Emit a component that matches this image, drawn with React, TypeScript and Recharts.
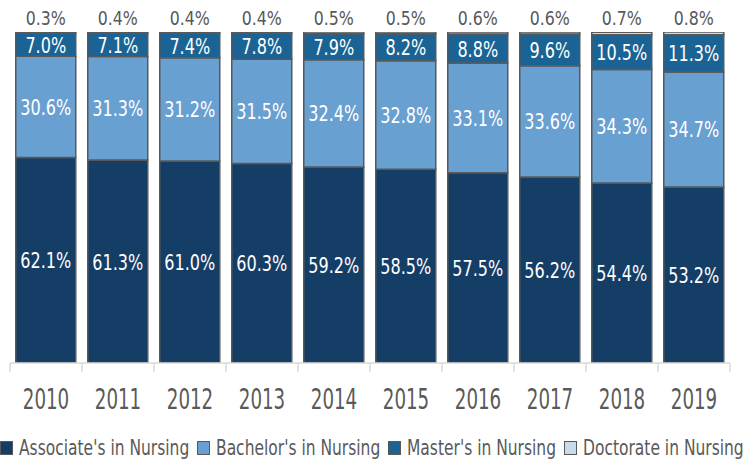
import { Bar, BarChart, LabelList, Legend, XAxis, YAxis } from 'recharts';

const years = ['2010', '2011', '2012', '2013', '2014', '2015', '2016', '2017', '2018', '2019'];
const associate = [62.1, 61.3, 61.0, 60.3, 59.2, 58.5, 57.5, 56.2, 54.4, 53.2];
const bachelor = [30.6, 31.3, 31.2, 31.5, 32.4, 32.8, 33.1, 33.6, 34.3, 34.7];
const master = [7.0, 7.1, 7.4, 7.8, 7.9, 8.2, 8.8, 9.6, 10.5, 11.3];
const doctorate = [0.3, 0.4, 0.4, 0.4, 0.5, 0.5, 0.6, 0.6, 0.7, 0.8];

const series = [
  { key: 'associate', name: "Associate's in Nursing", color: '#153e67' },
  { key: 'bachelor', name: "Bachelor's in Nursing", color: '#68a0d1' },
  { key: 'master', name: "Master's in Nursing", color: '#1a6394' },
  { key: 'doctorate', name: 'Doctorate in Nursing', color: '#c6dbee' },
];

const data = years.map((year, i) => ({
  year,
  associate: associate[i],
  bachelor: bachelor[i],
  master: master[i],
  doctorate: doctorate[i],
}));

const FONT = '"DejaVu Sans Condensed", "DejaVu Sans", sans-serif';
const GRAY = '#595959';
const WIDTH = 756;
const HEIGHT = 466;
const MARGIN = { top: 32, right: 26, left: 10, bottom: 0 };
const BAND = (WIDTH - MARGIN.left - MARGIN.right) / years.length;

const fmt = (v: number) => `${v.toFixed(1)}%`;

// measure text so the squeezed legend items keep their real widths
let measureCtx: CanvasRenderingContext2D | null = null;
function textWidth(text: string, size: number) {
  if (!measureCtx) measureCtx = document.createElement('canvas').getContext('2d');
  if (!measureCtx) return text.length * size * 0.55;
  measureCtx.font = `${size}px ${FONT}`;
  return measureCtx.measureText(text).width;
}

// narrow text, drawn in svg and squeezed horizontally
function NarrowText({ x, y, text, size, fill, squeeze }: any) {
  return (
    <text
      transform={`translate(${x},${y}) scale(${squeeze},1)`}
      textAnchor="middle"
      fill={fill}
      fontSize={size}
      fontFamily={FONT}
    >
      {text}
    </text>
  );
}

function InnerLabel(props: any) {
  const { x, y, width, height, value } = props;
  return (
    <NarrowText
      x={x + width / 2}
      y={y + height / 2 + 8}
      text={fmt(Number(value))}
      size={21.5}
      fill="#ffffff"
      squeeze={0.83}
    />
  );
}

function TopLabel(props: any) {
  const { x, y, width, value } = props;
  return <NarrowText x={x + width / 2} y={y - 7} text={fmt(Number(value))} size={19.5} fill={GRAY} squeeze={0.9} />;
}

function YearTick(props: any) {
  const { x, y, payload, index } = props;
  return (
    <g>
      <line x1={x - BAND / 2} x2={x - BAND / 2} y1={y} y2={y + 9} stroke="#d9d9d9" strokeWidth={1.5} />
      {index === years.length - 1 && (
        <line x1={x + BAND / 2} x2={x + BAND / 2} y1={y} y2={y + 9} stroke="#d9d9d9" strokeWidth={1.5} />
      )}
      <NarrowText x={x} y={y + 46} text={payload.value} size={29} fill={GRAY} squeeze={0.7} />
    </g>
  );
}

const LEGEND_SIZE = 20.5;
const LEGEND_SQUEEZE = 0.84;

function LegendRow() {
  return (
    <div
      style={{
        display: 'flex',
        justifyContent: 'center',
        gap: 8,
        paddingTop: 8,
        paddingLeft: 4,
        fontFamily: FONT,
        fontSize: LEGEND_SIZE,
        color: GRAY,
        whiteSpace: 'nowrap',
        lineHeight: '24px',
      }}
    >
      {series.map((s) => (
        <span key={s.key} style={{ display: 'flex', alignItems: 'center' }}>
          <span
            style={{
              display: 'inline-block',
              width: 11,
              height: 12,
              background: s.color,
              border: `1px solid ${GRAY}`,
              marginRight: 6,
            }}
          />
          <span style={{ display: 'inline-block', width: textWidth(s.name, LEGEND_SIZE) * LEGEND_SQUEEZE }}>
            <span
              style={{
                display: 'inline-block',
                transform: `scaleX(${LEGEND_SQUEEZE})`,
                transformOrigin: 'left center',
              }}
            >
              {s.name}
            </span>
          </span>
        </span>
      ))}
    </div>
  );
}

export default function App() {
  return (
    <div style={{ position: 'fixed', left: 0, top: 0, width: WIDTH, height: HEIGHT, background: '#fff' }}>
      <BarChart width={WIDTH} height={HEIGHT} data={data} margin={MARGIN} barCategoryGap="8%">
        <XAxis
          dataKey="year"
          axisLine={{ stroke: '#d9d9d9', strokeWidth: 1.5 }}
          tickLine={false}
          tickSize={0}
          tickMargin={0}
          height={65}
          tick={<YearTick />}
          interval={0}
        />
        <YAxis hide domain={[0, 100]} allowDataOverflow />
        <Legend verticalAlign="bottom" height={38} content={<LegendRow />} />
        {series.map((s) => (
          <Bar
            key={s.key}
            dataKey={s.key}
            name={s.name}
            stackId="a"
            fill={s.color}
            stroke={GRAY}
            strokeWidth={1.5}
            isAnimationActive={false}
          >
            <LabelList dataKey={s.key} content={s.key === 'doctorate' ? <TopLabel /> : <InnerLabel />} />
          </Bar>
        ))}
      </BarChart>
    </div>
  );
}
